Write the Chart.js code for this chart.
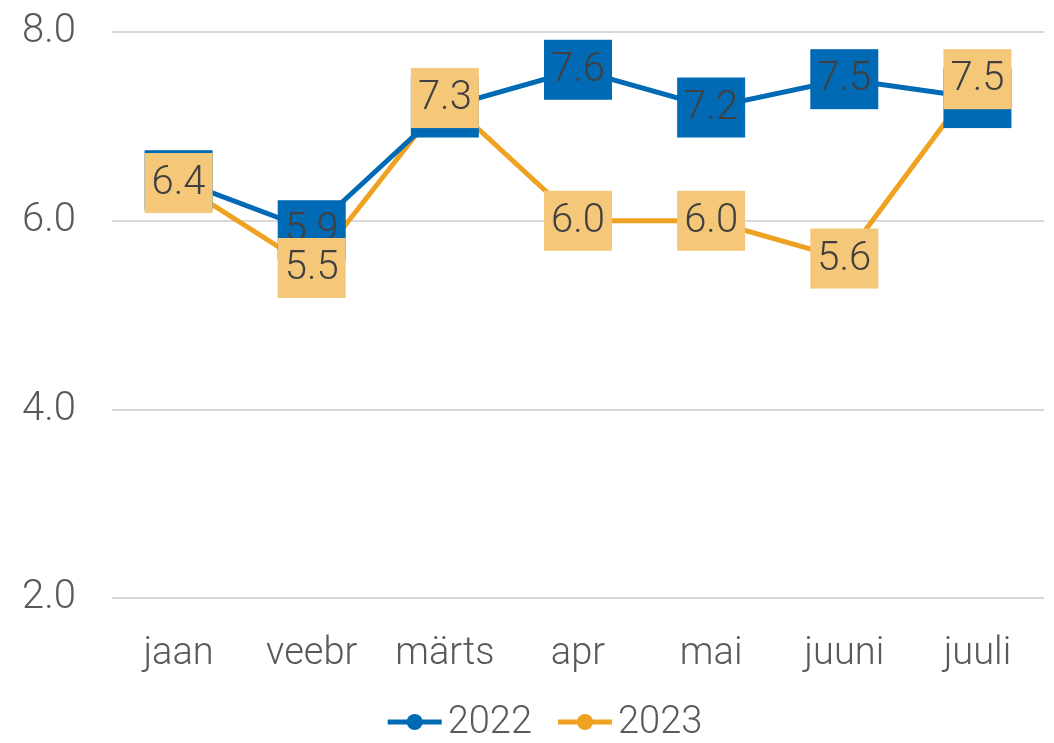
<!DOCTYPE html>
<html>
<head>
<meta charset="utf-8">
<script src="https://cdn.jsdelivr.net/npm/chart.js@4"></script>
<style>
  html, body { margin: 0; padding: 0; background: #fff; }
  #wrap { width: 1054px; height: 743px; }
</style>
</head>
<body>
<div id="wrap"><canvas id="graafik"></canvas></div>
<script>
const kuud = ['jaan', 'veebr', 'märts', 'apr', 'mai', 'juuni', 'juuli'];
const aasta2022 = [6.43, 5.9, 7.2, 7.6, 7.2, 7.5, 7.3];
const aasta2023 = [6.4, 5.5, 7.3, 6.0, 6.0, 5.6, 7.5];
const yTicks = [2.0, 4.0, 6.0, 8.0];

const sinine = '#006AB4';
const oranz = '#EFA222';
const oranzKast = '#F5C778';
const font = 'Roboto';

// andmesildid kastidena
const sildid = {
  id: 'sildid',
  afterDatasetsDraw(chart) {
    const ctx = chart.ctx;
    chart.data.datasets.forEach((ds, i) => {
      const meta = chart.getDatasetMeta(i);
      meta.data.forEach((p, j) => {
        const w = 68, h = 60;
        ctx.save();
        ctx.fillStyle = ds.kastVarv;
        ctx.fillRect(p.x - w / 2, p.y - h / 2, w, h);
        ctx.fillStyle = '#404040';
        ctx.font = '300 40px ' + font;
        ctx.textAlign = 'center';
        ctx.textBaseline = 'middle';
        ctx.fillText(ds.data[j].toFixed(1), p.x, p.y + 1);
        ctx.restore();
      });
    });
  }
};

// legend all: joon + täpp + tekst
const legend = {
  id: 'legend',
  afterDraw(chart) {
    const ctx = chart.ctx;
    ctx.save();
    ctx.font = '300 38px ' + font;
    const mark = 54, gap1 = 6, gap2 = 26;
    const items = chart.data.datasets.map(ds => ({ ds, tw: ctx.measureText(ds.label).width }));
    let total = 0;
    items.forEach((it, k) => { total += mark + gap1 + it.tw + (k ? gap2 : 0); });
    let x = chart.width / 2 + 18 - total / 2;
    const y = 722;
    items.forEach(it => {
      ctx.strokeStyle = it.ds.borderColor; ctx.lineWidth = 5;
      ctx.beginPath(); ctx.moveTo(x, y); ctx.lineTo(x + mark, y); ctx.stroke();
      ctx.fillStyle = it.ds.borderColor;
      ctx.beginPath(); ctx.arc(x + mark / 2, y, 8, 0, Math.PI * 2); ctx.fill();
      x += mark + gap1;
      ctx.fillStyle = '#595959';
      ctx.textBaseline = 'middle';
      ctx.fillText(it.ds.label, x, y + 1);
      x += it.tw + gap2;
    });
    ctx.restore();
  }
};

new Chart(document.getElementById('graafik'), {
  type: 'line',
  data: {
    labels: kuud,
    datasets: [
      { label: '2022', data: aasta2022, borderColor: sinine, backgroundColor: sinine, kastVarv: sinine,
        borderWidth: 5, pointRadius: 0, tension: 0 },
      { label: '2023', data: aasta2023, borderColor: oranz, backgroundColor: oranz, kastVarv: oranzKast,
        borderWidth: 5, pointRadius: 0, tension: 0 }
    ]
  },
  options: {
    responsive: true,
    maintainAspectRatio: false,
    animation: false,
    layout: { padding: { left: 0, right: 10, top: 0, bottom: 41 } },
    plugins: {
      tooltip: { enabled: false },
      legend: { display: false }
    },
    scales: {
      x: {
        offset: true,
        grid: { display: false },
        border: { display: false },
        ticks: { color: '#595959', font: { family: font, size: 38, weight: '300' }, padding: 25 }
      },
      y: {
        min: 2, max: 8,
        afterBuildTicks: ax => { ax.ticks = yTicks.map(v => ({ value: v })); },
        afterFit: ax => { ax.width = 112; ax.paddingTop = 32; },
        grid: { color: '#D9D9D9', lineWidth: 2, drawTicks: false },
        border: { display: false },
        ticks: { color: '#595959', font: { family: font, size: 40, weight: '300' }, padding: 36,
          callback: v => Number(v).toFixed(1) }
      }
    }
  },
  plugins: [sildid, legend]
});
</script>
</body>
</html>
